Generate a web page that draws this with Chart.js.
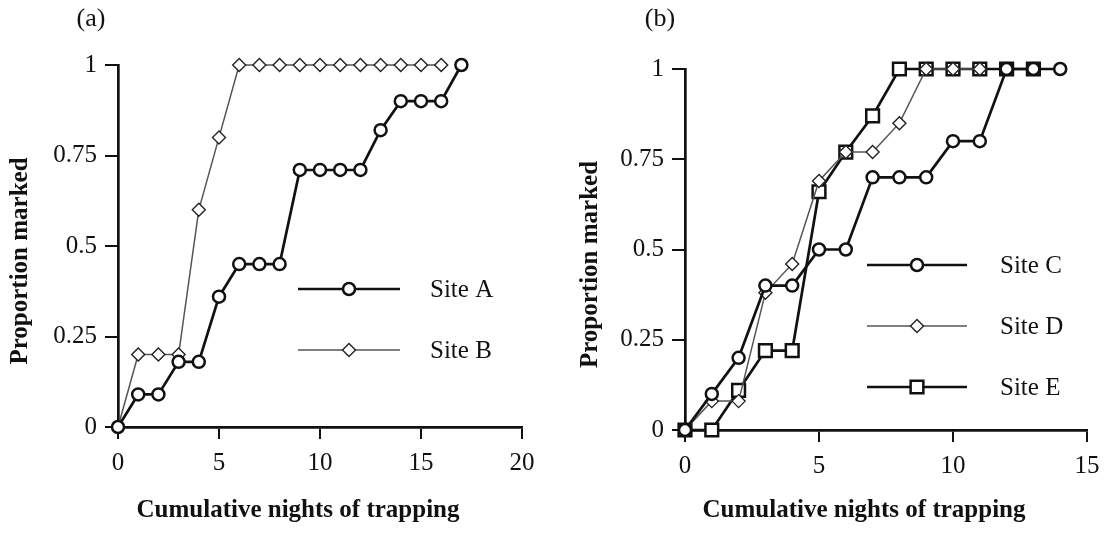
<!DOCTYPE html>
<html>
<head>
<meta charset="utf-8">
<script src="https://cdn.jsdelivr.net/npm/chart.js@4.4.1/dist/chart.umd.min.js"></script>
<style>
  html, body { margin: 0; padding: 0; background: #fff; }
  #wrap { position: relative; width: 1109px; height: 534px; }
  #wrap canvas { position: absolute; top: 0; }
</style>
</head>
<body>
<div id="wrap">
  <canvas id="chartA" width="560" height="534" style="left:0px"></canvas>
  <canvas id="chartB" width="549" height="534" style="left:560px"></canvas>
</div>
<script>
// data
const nightsA = [0, 1, 2, 3, 4, 5, 6, 7, 8, 9, 10, 11, 12, 13, 14, 15, 16, 17];
const siteA = [0, 0.09, 0.09, 0.18, 0.18, 0.36, 0.45, 0.45, 0.45, 0.71, 0.71, 0.71, 0.71, 0.82, 0.9, 0.9, 0.9, 1];
const nightsB = [0, 1, 2, 3, 4, 5, 6, 7, 8, 9, 10, 11, 12, 13, 14, 15, 16];
const siteB = [0, 0.2, 0.2, 0.2, 0.6, 0.8, 1, 1, 1, 1, 1, 1, 1, 1, 1, 1, 1];

const nightsC = [0, 1, 2, 3, 4, 5, 6, 7, 8, 9, 10, 11, 12, 13, 14];
const siteC = [0, 0.1, 0.2, 0.4, 0.4, 0.5, 0.5, 0.7, 0.7, 0.7, 0.8, 0.8, 1, 1, 1];
const nightsD = [0, 1, 2, 3, 4, 5, 6, 7, 8, 9, 10, 11];
const siteD = [0, 0.08, 0.08, 0.38, 0.46, 0.69, 0.77, 0.77, 0.85, 1, 1, 1];
const nightsE = [0, 1, 2, 3, 4, 5, 6, 7, 8, 9, 10, 11, 12, 13];
const siteE = [0, 0, 0.11, 0.22, 0.22, 0.66, 0.77, 0.87, 1, 1, 1, 1, 1, 1];

const yTicks = [0, 0.25, 0.5, 0.75, 1];
const yTickLabels = ['0', '0.25', '0.5', '0.75', '1'];
const xTicksA = [0, 5, 10, 15, 20];
const xTicksB = [0, 5, 10, 15];

const xTitle = 'Cumulative nights of trapping';
const yTitle = 'Proportion marked';

const INK = '#111';
const SERIF = "'Liberation Serif', 'Times New Roman', serif";

function pts(xs, ys) {
    return xs.map((x, i) => ({ x: x, y: ys[i] }));
}

// heavy line with open markers, or thin grey line with small diamonds
function heavy(label, xs, ys, shape, r) {
    return {
        label: label, data: pts(xs, ys),
        borderColor: INK, borderWidth: 2.7,
        pointStyle: shape, pointRadius: r, pointHoverRadius: r,
        pointBackgroundColor: '#fff', pointBorderColor: INK, pointBorderWidth: 2.5,
        clip: false
    };
}
function thin(label, xs, ys) {
    return {
        label: label, data: pts(xs, ys),
        borderColor: '#555', borderWidth: 1.5,
        pointStyle: 'rectRot', pointRadius: 6.5, pointHoverRadius: 6.5,
        pointBackgroundColor: '#fff', pointBorderColor: '#222', pointBorderWidth: 1.4,
        clip: false
    };
}

// legend inside the plot, axis titles and panel letter
const siteLegend = {
    id: 'siteLegend',
    afterDatasetsDraw(chart, args, opts) {
        const ctx = chart.ctx, area = chart.chartArea;
        ctx.save();
        chart.data.datasets.forEach((ds, i) => {
            const y = area.top + opts.rows[i];
            const x1 = area.left + opts.lineFrom, x2 = area.left + opts.lineTo;
            ctx.strokeStyle = ds.borderColor;
            ctx.lineWidth = ds.borderWidth;
            ctx.beginPath();
            ctx.moveTo(x1, y);
            ctx.lineTo(x2, y);
            ctx.stroke();
            ctx.fillStyle = ds.pointBackgroundColor;
            ctx.strokeStyle = ds.pointBorderColor;
            ctx.lineWidth = ds.pointBorderWidth;
            Chart.helpers.drawPoint(ctx, {
                pointStyle: ds.pointStyle, radius: ds.pointRadius,
                rotation: 0, borderWidth: ds.pointBorderWidth
            }, (x1 + x2) / 2, y);
            ctx.fillStyle = INK;
            ctx.font = '25px ' + SERIF;
            ctx.textAlign = 'left';
            ctx.textBaseline = 'middle';
            ctx.fillText(ds.label, area.left + opts.textAt, y + 1);
        });
        ctx.fillStyle = INK;
        ctx.textAlign = 'center';
        ctx.textBaseline = 'middle';

        ctx.font = '26px ' + SERIF;
        ctx.fillText(opts.panel, opts.panelX, opts.panelY);

        ctx.font = 'bold 25px ' + SERIF;
        ctx.fillText(xTitle, (area.left + area.right) / 2 - 22, opts.xTitleY);

        ctx.translate(opts.yTitleX, (area.top + area.bottom) / 2 + 15);
        ctx.rotate(-Math.PI / 2);
        ctx.fillText(yTitle, 0, 0);
        ctx.restore();
    }
};

function makeChart(id, datasets, xTicks, cfg) {
    const xMax = xTicks[xTicks.length - 1];
    return new Chart(document.getElementById(id), {
        type: 'line',
        data: { datasets: datasets },
        plugins: [siteLegend],
        options: {
            responsive: false,
            animation: false,
            events: [],
            layout: { padding: cfg.pad },
            plugins: {
                legend: { display: false },
                tooltip: { enabled: false },
                siteLegend: cfg.legend
            },
            scales: {
                x: {
                    type: 'linear', min: 0, max: xMax,
                    afterBuildTicks: s => { s.ticks = xTicks.map(v => ({ value: v })); },
                    afterFit: s => { s.height = cfg.xHeight; },
                    grid: { display: true, drawOnChartArea: false, drawTicks: true, tickLength: 12, color: INK, lineWidth: 2 },
                    border: { display: true, color: INK, width: 2.7 },
                    ticks: { color: INK, padding: 9, maxRotation: 0, font: { family: SERIF, size: 25 } }
                },
                y: {
                    type: 'linear', min: 0, max: 1,
                    afterBuildTicks: s => { s.ticks = yTicks.map(v => ({ value: v })); },
                    afterFit: s => { s.width = cfg.yWidth; },
                    grid: { display: true, drawOnChartArea: false, drawTicks: true, tickLength: 13, color: INK, lineWidth: 2 },
                    border: { display: true, color: INK, width: 2.7 },
                    ticks: {
                        color: INK, padding: 8, font: { family: SERIF, size: 25 },
                        callback: v => yTickLabels[yTicks.indexOf(v)]
                    }
                }
            }
        }
    });
}

makeChart('chartA', [
    heavy('Site A', nightsA, siteA, 'circle', 6),
    thin('Site B', nightsB, siteB)
], xTicksA, {
    pad: { top: 65, right: 38, bottom: 0, left: 0 },
    xHeight: 107, yWidth: 118,
    legend: {
        rows: [224, 285], lineFrom: 180, lineTo: 282, textAt: 312,
        panel: '(a)', panelX: 91, panelY: 19, xTitleY: 511, yTitleX: 21
    }
});

makeChart('chartB', [
    heavy('Site C', nightsC, siteC, 'circle', 6),
    thin('Site D', nightsD, siteD),
    heavy('Site E', nightsE, siteE, 'rect', 9)
], xTicksB, {
    pad: { top: 69, right: 22, bottom: 0, left: 0 },
    xHeight: 104, yWidth: 125,
    legend: {
        rows: [196, 257, 318], lineFrom: 182, lineTo: 282, textAt: 315,
        panel: '(b)', panelX: 100, panelY: 19, xTitleY: 511, yTitleX: 31
    }
});
</script>
</body>
</html>
